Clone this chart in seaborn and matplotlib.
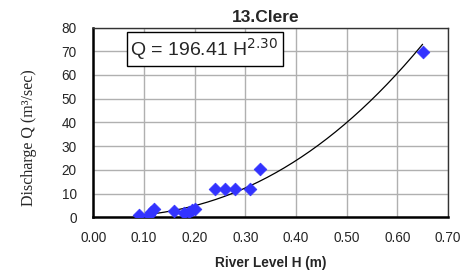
import numpy as np
import pandas as pd
import matplotlib
matplotlib.use('Agg')
import matplotlib.pyplot as plt
import seaborn as sns

# 观测数据：水位 H (m) 与流量 Q (m3/sec)
level_h = [0.09, 0.11, 0.115, 0.12, 0.16, 0.18, 0.19, 0.195, 0.20,
           0.24, 0.26, 0.28, 0.31, 0.33, 0.65]
discharge_q = [1.0, 1.0, 2.2, 3.4, 2.5, 2.0, 2.4, 3.0, 3.4,
               12.1, 12.0, 12.0, 11.8, 20.2, 69.6]

# 拟合曲线参数 Q = a H^b
coef_a = 196.41
coef_b = 2.30
curve_range = [0.09, 0.65]

x_ticks = [0.0, 0.1, 0.2, 0.3, 0.4, 0.5, 0.6, 0.7]
y_ticks = [0, 10, 20, 30, 40, 50, 60, 70, 80]

sns.set_style('white')
plt.rcParams['font.family'] = ['Liberation Sans', 'DejaVu Sans']

df = pd.DataFrame({'H': level_h, 'Q': discharge_q})
h_fit = np.linspace(curve_range[0], curve_range[1], 200)
fit_df = pd.DataFrame({'H': h_fit, 'Q': coef_a * h_fit ** coef_b})

fig, ax = plt.subplots(figsize=(4.73, 2.75), dpi=100)
fig.subplots_adjust(left=0.197, right=0.947, top=0.9, bottom=0.21)

sns.lineplot(data=fit_df, x='H', y='Q', color='black', linewidth=0.9, ax=ax)
sns.scatterplot(data=df, x='H', y='Q', marker='D', color='#3333FF',
                edgecolor='#3333FF', s=42, ax=ax, zorder=3)

ax.set_xlim(0, 0.7)
ax.set_ylim(0, 80)
ax.set_xticks(x_ticks)
ax.set_yticks(y_ticks)
ax.set_xticklabels([f'{t:.2f}' for t in x_ticks], fontsize=9.8)
ax.set_yticklabels([str(t) for t in y_ticks], fontsize=9.8)
ax.tick_params(axis='x', length=0, pad=10)
ax.tick_params(axis='y', length=0, pad=12)
ax.grid(True, color='#b0b0b0', linewidth=1.0)
ax.set_axisbelow(True)

for side in ['left', 'bottom']:
    ax.spines[side].set_color('black')
    ax.spines[side].set_linewidth(1.8)
for side in ['top', 'right']:
    ax.spines[side].set_color('#333333')
    ax.spines[side].set_linewidth(1.0)

ax.set_title('13.Clere', fontsize=12.5, fontweight='bold', pad=4, x=0.486)
ax.set_xlabel('River Level H (m)', fontsize=9.8, fontweight='bold', labelpad=8)
ax.set_ylabel('Discharge Q (m³/sec)', fontsize=11.5,
              family='Liberation Serif')
ax.yaxis.set_label_coords(-0.158, 0.42)

ax.text(0.105, 0.955, f'Q = {coef_a:.2f} H$^{{{coef_b:.2f}}}$',
        transform=ax.transAxes, fontsize=14, va='top', ha='left',
        bbox=dict(boxstyle='square,pad=0.2', facecolor='white',
                  edgecolor='black', linewidth=1.0))

fig.savefig('out.png', dpi=100)
